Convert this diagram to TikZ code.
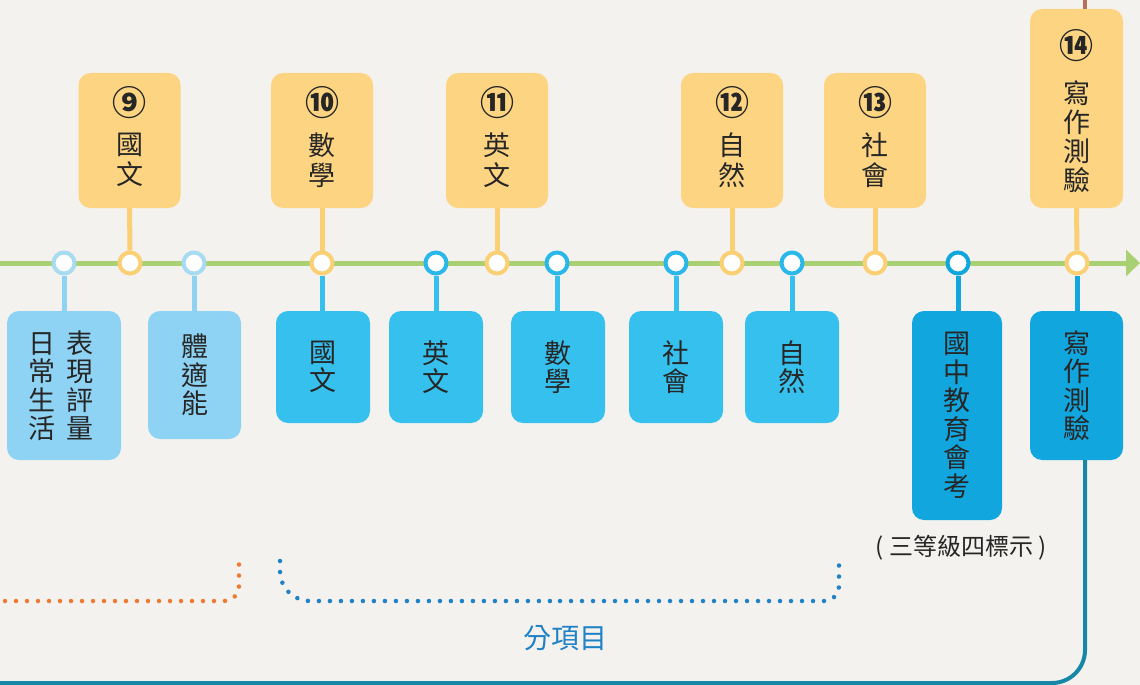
\documentclass[tikz,border=0pt]{standalone}
\usepackage{fontspec}
\newfontfamily\cjk{Noto Sans CJK TC}
\usetikzlibrary{arrows.meta}
\definecolor{bg}{HTML}{F4F2EE}
\definecolor{obox}{HTML}{FDD582}
\definecolor{ocirc}{HTML}{FBCF74}
\definecolor{lbbox}{HTML}{8FD3F4}
\definecolor{lbcirc}{HTML}{A6DBF1}
\definecolor{bbox}{HTML}{36C0EE}
\definecolor{bcirc}{HTML}{2AB7EA}
\definecolor{dbox}{HTML}{12A6DE}
\definecolor{greenl}{HTML}{A9D173}
\definecolor{teal}{HTML}{1787A8}
\definecolor{brownl}{HTML}{B5725A}
\definecolor{dotor}{HTML}{EE7A32}
\definecolor{dotbl}{HTML}{1F82C6}
\definecolor{txt}{HTML}{262626}
\begin{document}
\begin{tikzpicture}[x=1pt,y=-1pt,
  topbox/.style={fill=obox, rounded corners=12pt, minimum width=102pt, minimum height=135pt, inner sep=0pt},
  botbox/.style={rounded corners=12pt, minimum width=94pt, inner sep=0pt, align=center, text=txt, font=\cjk\fontsize{27}{28.5}\selectfont},
  numtxt/.style={text=txt, font=\cjk\bfseries\fontsize{34}{34}\selectfont, inner sep=0pt},
  toptxt/.style={text=txt, font=\cjk\fontsize{27}{30}\selectfont, align=center, inner sep=0pt},
  stopmark/.style={circle, fill=white, minimum size=21pt, inner sep=0pt, line width=4pt},
  conn/.style={line width=5pt},
  dots/.style={line width=4.5pt, line cap=round, dash pattern=on 0pt off 11pt},
]
\useasboundingbox (0,0) rectangle (1140,685);
\fill[bg] (0,0) rectangle (1140,685);

% main green line
\coordinate (gs) at (0,263);
\coordinate (ge) at (1140,263);
\draw[greenl, line width=5pt, -{Triangle[length=14pt,width=26pt]}] (gs) -- (ge);

% top boxes
\node[topbox] (t9) at (129.5,140.5) {};
\node[topbox] (t10) at (322,140.5) {};
\node[topbox] (t11) at (497,140.5) {};
\node[topbox] (t12) at (732,140.5) {};
\node[topbox] (t13) at (875,140.5) {};
\node[topbox, minimum width=93pt, minimum height=199pt] (t14) at (1076.5,108.5) {};

\node[numtxt] (n9) at (129.5,103) {⑨};
\node[numtxt] (n10) at (322,103) {⑩};
\node[numtxt] (n11) at (497,103) {⑪};
\node[numtxt] (n12) at (732,103) {⑫};
\node[numtxt] (n13) at (875,103) {⑬};
\node[numtxt] (n14) at (1076.5,46) {⑭};

\node[toptxt] (x9) at (129.5,160) {國\\文};
\node[toptxt] (x10) at (322,160) {數\\學};
\node[toptxt] (x11) at (497,160) {英\\文};
\node[toptxt] (x12) at (732,160) {自\\然};
\node[toptxt] (x13) at (875,160) {社\\會};
\node[toptxt, font=\cjk\fontsize{27}{29}\selectfont] (x14) at (1076.5,137) {寫\\作\\測\\驗};

% markers on the line
\node[stopmark, draw=lbcirc] (m1) at (64,263) {};
\node[stopmark, draw=ocirc] (m2) at (130,263) {};
\node[stopmark, draw=lbcirc] (m3) at (194,263) {};
\node[stopmark, draw=ocirc] (m4) at (322,263) {};
\node[stopmark, draw=bcirc] (m5) at (436,263) {};
\node[stopmark, draw=ocirc] (m6) at (497,263) {};
\node[stopmark, draw=bcirc] (m7) at (557,263) {};
\node[stopmark, draw=bcirc] (m8) at (676,263) {};
\node[stopmark, draw=ocirc] (m9) at (732,263) {};
\node[stopmark, draw=bcirc] (m10) at (792,263) {};
\node[stopmark, draw=ocirc] (m11) at (875,263) {};
\node[stopmark, draw=dbox] (m12) at (958,263) {};
\node[stopmark, draw=ocirc] (m13) at (1077,263) {};

% bottom boxes
\node[botbox, fill=lbbox, minimum width=114pt, minimum height=149pt] (b1) at (64,385.5) {};
\node[text=txt, font=\cjk\fontsize{27}{28.5}\selectfont, align=center, inner sep=0pt] (b1t) at (61,385.5) {日\hspace{11pt}表\\常\hspace{11pt}現\\生\hspace{11pt}評\\活\hspace{11pt}量};
\node[botbox, fill=lbbox, minimum width=93pt, minimum height=128pt] (b2) at (194.5,375) {體\\適\\能};
\node[botbox, fill=bbox, minimum height=112pt] (b3) at (323,367) {國\\文};
\node[botbox, fill=bbox, minimum height=112pt] (b4) at (436,367) {英\\文};
\node[botbox, fill=bbox, minimum height=112pt] (b5) at (558,367) {數\\學};
\node[botbox, fill=bbox, minimum height=112pt] (b6) at (676,367) {社\\會};
\node[botbox, fill=bbox, minimum height=112pt] (b7) at (792,367) {自\\然};
\node[botbox, fill=dbox, minimum width=90pt, minimum height=209pt] (b8) at (957,415.5) {國\\中\\教\\育\\會\\考};
\node[botbox, fill=dbox, minimum width=93pt, minimum height=149pt] (b9) at (1076.5,385.5) {寫\\作\\測\\驗};

% connectors top box -> marker
\draw[conn, ocirc] (t9.south) -- (m2.north);
\draw[conn, ocirc] (t10.south) -- (m4.north);
\draw[conn, ocirc] (t11.south) -- (m6.north);
\draw[conn, ocirc] (t12.south) -- (m9.north);
\draw[conn, ocirc] (t13.south) -- (m11.north);
\draw[conn, ocirc] (t14.south) -- (m13.north);

% connectors marker -> bottom box
\draw[conn, lbbox] (m1.south) -- (b1.north -| m1);
\draw[conn, lbbox] (m3.south) -- (b2.north -| m3);
\draw[conn, bbox] (m4.south) -- (b3.north -| m4);
\draw[conn, bbox] (m5.south) -- (b4.north -| m5);
\draw[conn, bbox] (m7.south) -- (b5.north -| m7);
\draw[conn, bbox] (m8.south) -- (b6.north -| m8);
\draw[conn, bbox] (m10.south) -- (b7.north -| m10);
\draw[conn, dbox] (m12.south) -- (b8.north -| m12);
\draw[conn, dbox] (m13.south) -- (b9.north -| m13);

% brown line at top
\coordinate (br) at (1085,0);
\draw[brownl, line width=4pt] (br) -- (t14.north -| br);

% teal return line
\coordinate (tl) at (0,683);
\draw[teal, line width=4pt, rounded corners=33pt] (b9.south -| br) -- (1085,683) -- (tl);

% dotted brackets
\coordinate (oa) at (5,601);
\coordinate (ob) at (239,561);
\draw[dots, dotor, rounded corners=15pt] (oa) -- (239,601) -- (ob);
\coordinate (ba) at (280,561);
\coordinate (bb) at (839,561);
\draw[dots, dotbl, rounded corners=30pt] (ba) -- (280,601) -- (560,601);
\draw[dots, dotbl, rounded corners=15pt] (560,601) -- (839,601) -- (bb);

% labels
\node[text=txt, font=\cjk\fontsize{24}{24}\selectfont, inner sep=0pt] (lab1) at (961,548) {( 三等級四標示 )};
\node[text=dotbl, font=\cjk\fontsize{28}{28}\selectfont, inner sep=0pt] (lab2) at (565,638) {分項目};
\end{tikzpicture}
\end{document}
